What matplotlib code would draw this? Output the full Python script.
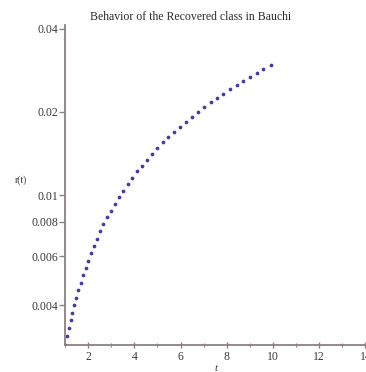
import matplotlib
matplotlib.use('Agg')
import matplotlib.pyplot as plt
from matplotlib.ticker import FixedLocator, NullLocator, MultipleLocator

# values (Maple point plot, log y axis)
t_vals = [1.00, 1.10, 1.17, 1.25, 1.32, 1.39, 1.48, 1.58, 1.68, 1.78,
          1.90, 2.01, 2.13, 2.24, 2.39, 2.52, 2.66, 2.83, 2.99, 3.16,
          3.34, 3.52, 3.71, 3.91, 4.12, 4.33, 4.56, 4.78, 5.00, 5.23,
          5.47, 5.72, 5.98, 6.23, 6.48, 6.74, 7.02, 7.31, 7.59, 7.85,
          8.14, 8.43, 8.72, 9.01, 9.30, 9.58, 9.92]
r_vals = [0.00288, 0.00309, 0.00331, 0.00353, 0.00375, 0.00399, 0.00426, 0.00453, 0.00481, 0.00513,
          0.00547, 0.00578, 0.00615, 0.00654, 0.00692, 0.00739, 0.00786, 0.00835, 0.00878, 0.00928,
          0.00981, 0.01037, 0.01094, 0.01150, 0.01219, 0.01278, 0.01340, 0.01405, 0.01478, 0.01553,
          0.01620, 0.01697, 0.01769, 0.01845, 0.01923, 0.02005, 0.02090, 0.02169, 0.02243, 0.02325,
          0.02417, 0.02505, 0.02591, 0.02672, 0.02762, 0.02856, 0.02950]

y_ticks = [0.004, 0.006, 0.008, 0.01, 0.02, 0.04]
y_tick_labels = ['0.004', '0.006', '0.008', '0.01', '0.02', '0.04']
x_ticks = [2, 4, 6, 8, 10, 12, 14]

plt.rcParams['font.family'] = ['Liberation Serif', 'DejaVu Serif']
axis_color = '#8a8080'
text_color = '#3a3a3a'

fig = plt.figure(figsize=(3.66, 3.72), dpi=100)
ax = fig.add_axes([0.1776, 0.0726, 0.827, 0.860])

ax.plot(t_vals, r_vals, linestyle='none', marker='o', markersize=2.7,
        color='#463c9c', markeredgewidth=0)

ax.set_yscale('log')
ax.set_xlim(1, 14.1)
ax.set_ylim(0.00287, 0.0412)

ax.yaxis.set_major_locator(FixedLocator(y_ticks))
ax.set_yticklabels(y_tick_labels)
ax.yaxis.set_minor_locator(NullLocator())
ax.xaxis.set_major_locator(FixedLocator(x_ticks))
ax.xaxis.set_minor_locator(MultipleLocator(1))

for side in ['top', 'right']:
    ax.spines[side].set_visible(False)
for side in ['left', 'bottom']:
    ax.spines[side].set_color(axis_color)
    ax.spines[side].set_linewidth(1.3)

ax.tick_params(axis='y', which='major', direction='out', length=4, width=1,
               color=axis_color, labelsize=8.5, labelcolor=text_color, pad=1)
ax.tick_params(axis='x', which='major', direction='inout', length=4, width=1,
               color=axis_color, labelsize=8.5, labelcolor=text_color, pad=2)
ax.tick_params(axis='x', which='minor', direction='inout', length=2.5, width=0.8,
               color=axis_color)

ax.set_xlabel('t', fontsize=8, style='italic', color=text_color, labelpad=1)
ax.set_ylabel('r(t)', fontsize=7, rotation=0, color=text_color)
ax.yaxis.set_label_coords(-0.145, 0.5)

fig.text(0.522, 0.954, 'Behavior of the Recovered class in Bauchi',
         ha='center', va='center', fontsize=8.5, color='#2a2a2a')

fig.savefig('out.png', dpi=100, facecolor='white')
